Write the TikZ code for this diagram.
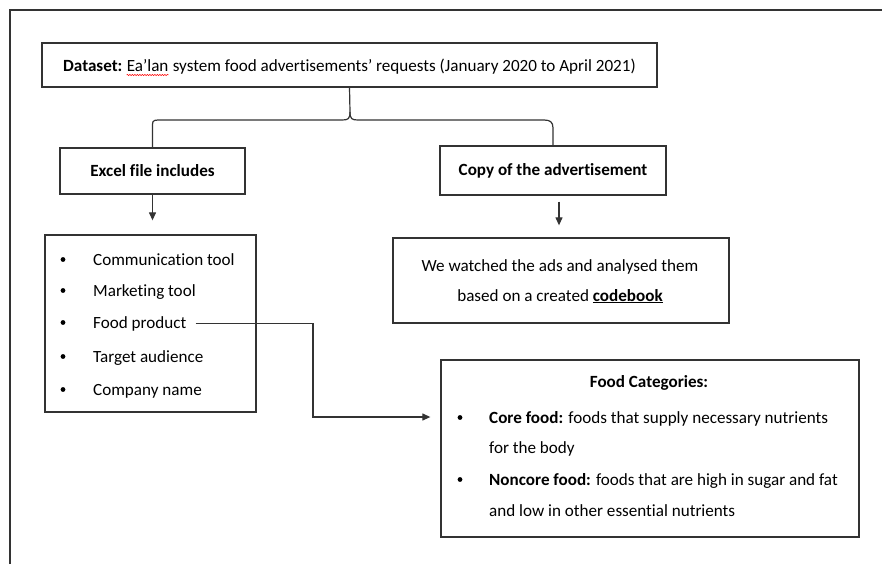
\documentclass[tikz,border=0pt]{standalone}
\usepackage{fontspec}
\setmainfont{Carlito}[Ligatures={TeX,NoCommon}]
\usetikzlibrary{arrows.meta,decorations.pathmorphing}
\definecolor{lncol}{HTML}{333333}
\begin{document}
\begin{tikzpicture}[x=1pt,y=-1pt,font=\fontsize{17.1}{20}\selectfont,
  box/.style={draw=lncol,line width=1.3pt,inner sep=0pt},
  txt/.style={inner sep=0pt,anchor=base west},
  ctxt/.style={inner sep=0pt,anchor=base},
  conn/.style={draw=lncol,line width=1.2pt},
  arr/.style={conn,-{Triangle[length=8pt,width=7pt]}},
  dot/.style={fill=black,circle,inner sep=0pt,minimum size=4.8pt}]
\useasboundingbox (0,0) rectangle (882,564);
% outer frame (open at right and bottom)
\draw[conn] (10,564) -- (10,10) -- (882,10);

% dataset box
\node[box,minimum width=615pt,minimum height=44pt] (dataset) at (349.5,65) {};
\node[txt] (ds1) at (63,72) {\textbf{Dataset:}};
\node[txt] (ds2) at ([xshift=4pt]ds1.base east) {Ea'lan};
\node[txt] (ds3) at ([xshift=4pt]ds2.base east) {system food advertisements' requests (January 2020 to April 2021)};
\draw[red,line width=0.5pt,decorate,decoration={snake,amplitude=0.7pt,segment length=2.5pt}]
  ([yshift=-3pt]ds2.base west) -- ([yshift=-3pt]ds2.base east);

% second-level boxes
\node[box,minimum width=185pt,minimum height=46pt,font=\fontsize{17.1}{20}\selectfont\bfseries] (excel) at (152.5,171) {Excel file includes};
\node[box,minimum width=226pt,minimum height=49pt,font=\fontsize{17.1}{20}\selectfont\bfseries] (copy) at (553,170.5) {Copy of the advertisement};

% brace
\draw[conn] (dataset.south) -- (350,112) .. controls (350,119) and (348,120) .. (342,120)
  -- (158,120) .. controls (152,120) and (excel.north |- 0,122) .. (excel.north |- 0,128) -- (excel.north);
\draw[conn] (350,112) .. controls (350,119) and (352,120) .. (358,120)
  -- (544,120) .. controls (550,120) and (copy.north |- 0,122) .. (copy.north |- 0,128) -- (copy.north);

% list box
\node[box,minimum width=211pt,minimum height=177pt] (list) at (150.5,323.5) {};
\foreach \name/\t/\yy in {comm/Communication tool/265, mark/Marketing tool/296, foodp/Food product/328, targ/Target audience/362, comp/Company name/395}{
  \node[dot] (b\name) at (63,\yy-5.5) {};
  \node[txt] (\name) at (93,\yy) {\t};
}

% watched box
\node[box,minimum width=336pt,minimum height=85pt] (watch) at (561,280.5) {};
\node[ctxt] (w1) at (560,271) {We watched the ads and analysed them};
\node[ctxt] (w2) at (560,301) {based on a created \underline{\textbf{codebook}}};

% food categories box
\node[box,minimum width=418pt,minimum height=177pt] (foodbox) at (650,448.5) {};
\node[ctxt,font=\fontsize{17.1}{20}\selectfont\bfseries] (fct) at (649,387) {Food Categories:};
\node[dot] (fb1) at (460,417.5) {};
\node[txt] (f1) at (489,423) {\textbf{Core food:} foods that supply necessary nutrients};
\node[txt] (f2) at (489,453) {for the body};
\node[dot] (fb2) at (460,479.5) {};
\node[txt] (f3) at (489,485) {\textbf{Noncore food:} foods that are high in sugar and fat};
\node[txt] (f4) at (489,516) {and low in other essential nutrients};

% arrows
\draw[arr,shorten >=14pt] (excel.south) -- (excel.south |- list.north);
\draw[arr,shorten <=6pt,shorten >=12pt] ([xshift=6pt]copy.south) -- ([xshift=6pt]copy.south |- watch.north);
\coordinate (bend) at (313,417);
\draw[arr,shorten <=9pt,shorten >=10pt] (foodp.east) -| (bend) -- ([yshift=31.5pt]foodbox.west);
\end{tikzpicture}
\end{document}
